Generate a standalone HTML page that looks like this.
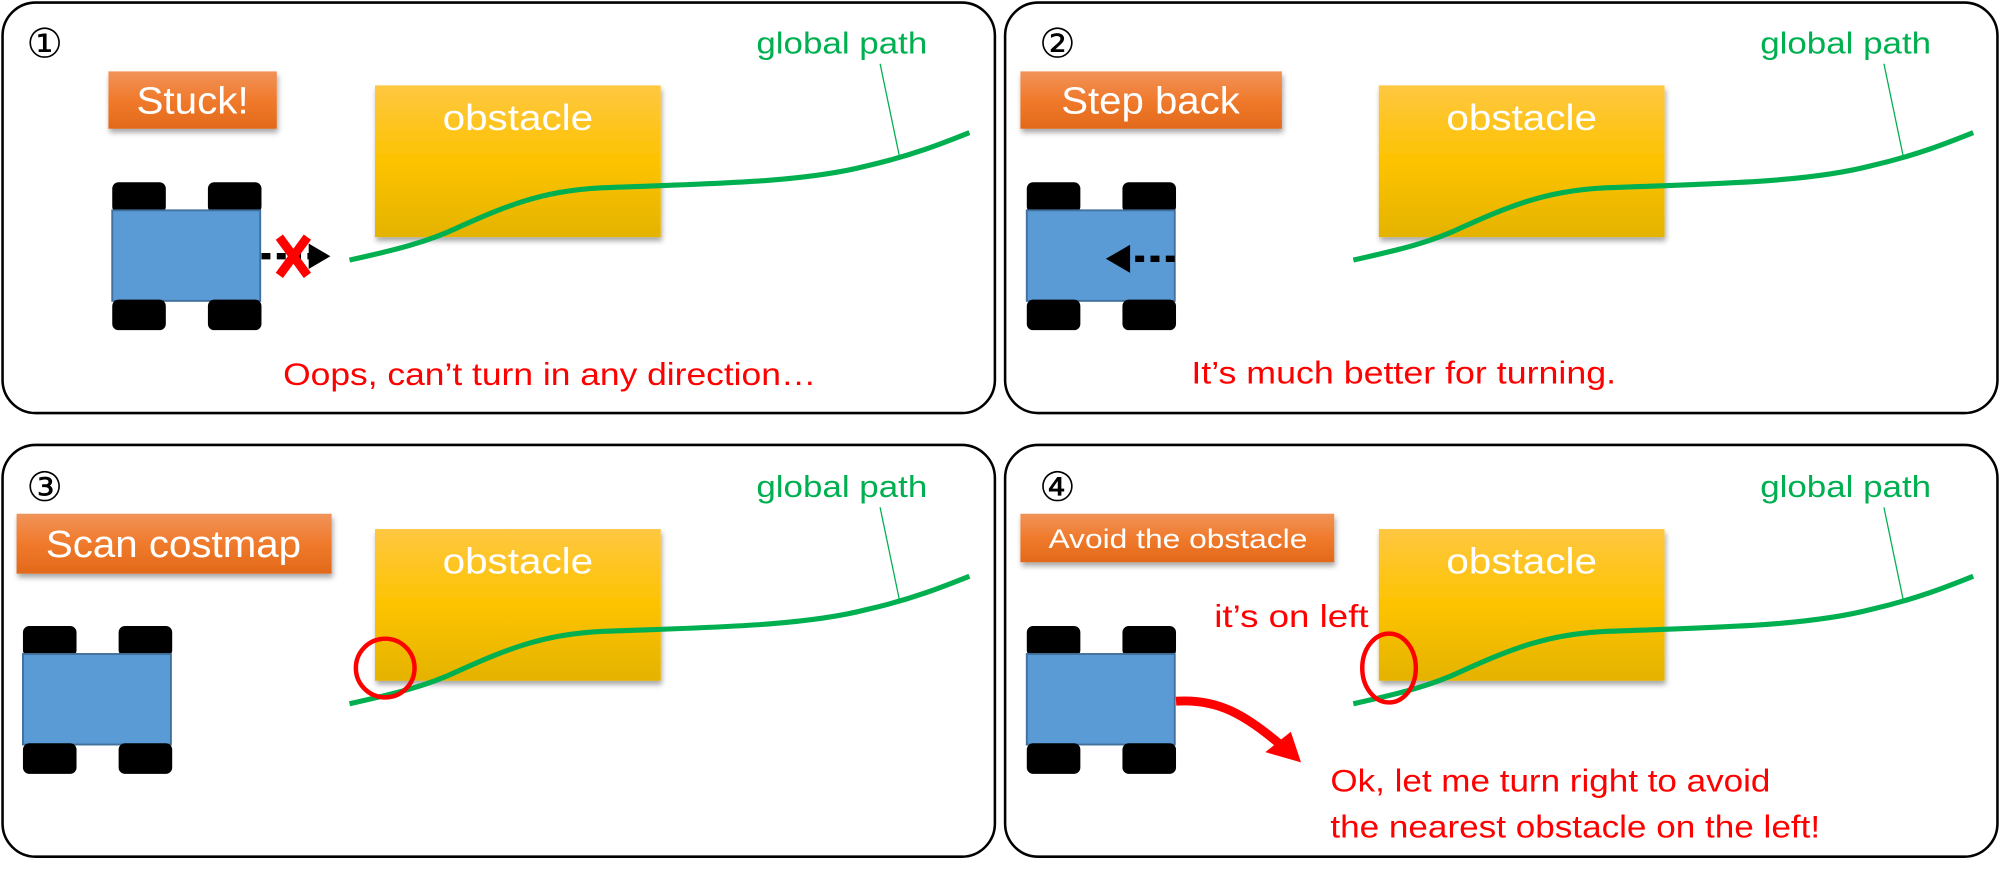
<!DOCTYPE html>
<html><head><meta charset="utf-8"><style>
html,body{margin:0;padding:0;background:#fff;}
svg{display:block;}
text{font-family:"Liberation Sans","DejaVu Sans",sans-serif;}
</style></head><body>
<svg width="2000" height="872" viewBox="0 0 1568 684" preserveAspectRatio="none" xmlns="http://www.w3.org/2000/svg">
<defs>
<linearGradient id="og" x1="0" y1="0" x2="0" y2="1"><stop offset="0" stop-color="#f19359"/><stop offset="0.5" stop-color="#f07a2c"/><stop offset="1" stop-color="#e2691a"/></linearGradient>
<linearGradient id="yg" x1="0" y1="0" x2="0" y2="1"><stop offset="0" stop-color="#fec741"/><stop offset="0.5" stop-color="#fdc300"/><stop offset="1" stop-color="#e4b300"/></linearGradient>
<filter id="sh" x="-10%" y="-10%" width="130%" height="130%"><feDropShadow dx="1" dy="3" stdDeviation="2" flood-color="#000" flood-opacity="0.35"/></filter>
<g id="car">
<rect x="0" y="0" width="42" height="24" rx="5" fill="#000"/>
<rect x="75" y="0" width="42" height="24" rx="5" fill="#000"/>
<rect x="0" y="22" width="116" height="71" fill="#5b9bd5" stroke="#41719c" stroke-width="1.5"/>
<rect x="0" y="92" width="42" height="24" rx="5" fill="#000"/>
<rect x="75" y="92" width="42" height="24" rx="5" fill="#000"/>
</g>
<g id="scene">
<rect x="294" y="67" width="224" height="119" fill="url(#yg)" filter="url(#sh)"/>
<text x="347" y="102" font-size="28" fill="#fff" textLength="118" lengthAdjust="spacingAndGlyphs">obstacle</text>
<path d="M274,204 C310,196 335,190 360,178 C400,160 430,148 480,147 C560,144 630,143 680,130 C715,122 740,112 760,104" fill="none" stroke="#00b050" stroke-width="4"/>
<line x1="705" y1="122" x2="690" y2="50" stroke="#00b050" stroke-width="1"/>
<text x="593" y="42" font-size="24" fill="#00b050" textLength="134" lengthAdjust="spacingAndGlyphs">global path</text>
</g>
</defs>
<g fill="#fff" stroke="#000" stroke-width="2">
<rect x="2" y="2" width="778" height="322" rx="26"/>
<rect x="788" y="2" width="778" height="322" rx="26"/>
<rect x="2" y="349" width="778" height="323" rx="26"/>
<rect x="788" y="349" width="778" height="323" rx="26"/>
</g>
<!-- panel 1 -->
<use href="#scene"/>
<text x="35" y="45" font-size="32" text-anchor="middle">①</text>
<rect x="85" y="56" width="132" height="45" fill="url(#og)" filter="url(#sh)"/>
<text x="107" y="89" font-size="30" fill="#fff" textLength="88" lengthAdjust="spacingAndGlyphs">Stuck!</text>
<use href="#car" x="88" y="143"/>
<line x1="205" y1="201" x2="246" y2="201" stroke="#000" stroke-width="5" stroke-dasharray="7,5"/>
<polygon points="242,191 259,201 242,211" fill="#000"/>
<path d="M219,186 L241,216 M241,186 L219,216" stroke="#f00" stroke-width="7"/>
<text x="222" y="302" font-size="25" fill="#f00" textLength="418" lengthAdjust="spacingAndGlyphs">Oops, can’t turn in any direction…</text>
<!-- panel 2 -->
<use href="#scene" x="787"/>
<text x="829" y="45" font-size="32" text-anchor="middle">②</text>
<rect x="800" y="56" width="205" height="45" fill="url(#og)" filter="url(#sh)"/>
<text x="832" y="89" font-size="30" fill="#fff" textLength="140" lengthAdjust="spacingAndGlyphs">Step back</text>
<use href="#car" x="805" y="143"/>
<line x1="921" y1="203" x2="888" y2="203" stroke="#000" stroke-width="5" stroke-dasharray="7,5"/>
<polygon points="886,192 867,203 886,214" fill="#000"/>
<text x="934" y="301" font-size="25" fill="#f00" textLength="333" lengthAdjust="spacingAndGlyphs">It’s much better for turning.</text>
<!-- panel 3 -->
<use href="#scene" y="348"/>
<text x="35" y="393" font-size="32" text-anchor="middle">③</text>
<rect x="13" y="403" width="247" height="47" fill="url(#og)" filter="url(#sh)"/>
<text x="36" y="437" font-size="30" fill="#fff" textLength="200" lengthAdjust="spacingAndGlyphs">Scan costmap</text>
<use href="#car" x="18" y="491"/>
<circle cx="302" cy="524" r="23" fill="none" stroke="#f00" stroke-width="3.5"/>
<!-- panel 4 -->
<use href="#scene" x="787" y="348"/>
<text x="829" y="393" font-size="32" text-anchor="middle">④</text>
<rect x="800" y="403" width="246" height="38" fill="url(#og)" filter="url(#sh)"/>
<text x="822" y="430" font-size="21" fill="#fff" textLength="203" lengthAdjust="spacingAndGlyphs">Avoid the obstacle</text>
<use href="#car" x="805" y="491"/>
<text x="952" y="492" font-size="25" fill="#f00" textLength="121" lengthAdjust="spacingAndGlyphs">it’s on left</text>
<ellipse cx="1089" cy="524" rx="21" ry="27" fill="none" stroke="#f00" stroke-width="3.5"/>
<path d="M922,550 C955,548 975,560 1005,585" fill="none" stroke="#f00" stroke-width="7"/>
<polygon points="992,590 1020,598 1012,574" fill="#f00"/>
<text x="1043" y="621" font-size="25" fill="#f00" textLength="345" lengthAdjust="spacingAndGlyphs">Ok, let me turn right to avoid</text>
<text x="1043" y="657" font-size="25" fill="#f00" textLength="384" lengthAdjust="spacingAndGlyphs">the nearest obstacle on the left!</text>
</svg>
</body></html>
